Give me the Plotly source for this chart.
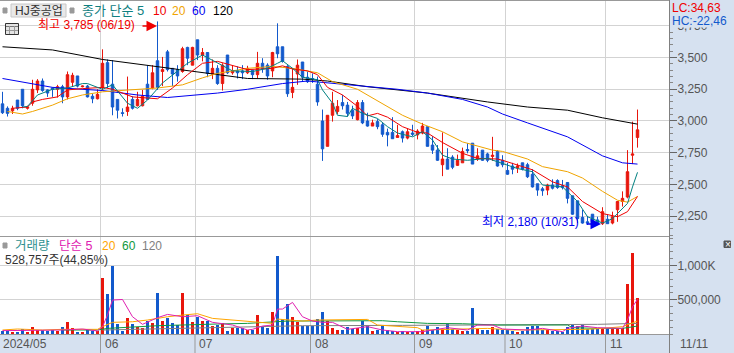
import plotly.graph_objects as go

W, H = 734, 353
OPEN = [3135,3100,3080,3165,3250,3100,3140,3245,3315,3245,3260,3250,3270,3190,3305,3355,3270,3275,3195,3175,
        3265,3460,3290,3170,3065,3075,3170,3120,3120,3290,3260,3475,3390,3545,3415,3405,3390,3580,3440,3640,
        3520,3540,3370,3415,3295,3520,3380,3395,3395,3380,3400,3365,3455,3440,3395,3585,3585,3430,3225,3370,
        3465,3345,3335,3290,3000,2800,3045,3075,3145,3125,3085,3010,3145,3000,2960,2995,2970,2910,2910,2870,
        2915,2865,2905,2890,2905,2955,2810,2770,2655,2700,2715,2650,2670,2775,2825,2700,2770,2740,2720,2760,
        2690,2610,2645,2630,2670,2655,2580,2505,2465,2455,2495,2530,2490,2515,2410,2370,2240,2205,2265,2220,
        2190,2225,2195,2300,2365,2400,2730,2870]
HIGH = [3230,3115,3120,3165,3250,3120,3325,3330,3335,3250,3265,3285,3285,3390,3380,3355,3280,3285,3215,3250,
        3565,3485,3480,3170,3100,3350,3195,3230,3245,3440,3440,3785,3505,3560,3415,3440,3585,3585,3585,3640,
        3575,3540,3485,3440,3455,3520,3440,3430,3440,3435,3400,3545,3495,3455,3545,3770,3585,3440,3415,3485,
        3465,3390,3375,3350,3090,3045,3230,3165,3205,3150,3120,3165,3165,3065,3010,3015,2985,2940,3030,2970,
        2925,2940,2970,2935,2985,2955,2880,2810,2910,2785,2730,2735,2790,2825,2825,2785,2770,2750,2875,2770,
        2730,2670,2670,2665,2670,2670,2620,2505,2480,2505,2540,2540,2535,2515,2410,2370,2300,2250,2265,2245,
        2320,2265,2285,2365,2445,2770,2995,3090]
LOW = [3055,3035,3055,3085,3100,3090,3120,3220,3230,3190,3190,3185,3140,3170,3270,3265,3265,3185,3140,3170,
       3240,3260,3045,3020,3035,3040,3090,3115,3115,3165,3250,3245,3275,3390,3275,3310,3380,3440,3440,3480,
       3470,3345,3330,3285,3240,3370,3365,3335,3330,3370,3330,3335,3380,3325,3345,3495,3460,3190,3180,3285,
       3310,3300,3300,3120,2685,2800,2995,3055,3090,3035,3015,3005,2975,2955,2960,2935,2875,2800,2860,2870,
       2830,2855,2880,2855,2895,2800,2740,2685,2565,2620,2620,2645,2670,2745,2660,2685,2685,2675,2685,2640,
       2635,2575,2580,2590,2610,2550,2475,2410,2410,2415,2460,2465,2460,2350,2260,2195,2190,2180,2195,2190,
       2180,2190,2185,2205,2325,2390,2660,2790]
CLOSE = [3065,3060,3100,3100,3120,3110,3250,3315,3240,3220,3250,3270,3190,3365,3360,3275,3275,3190,3175,3210,
         3455,3295,3110,3085,3060,3110,3100,3170,3195,3170,3380,3265,3405,3405,3370,3355,3570,3495,3580,3520,
         3540,3375,3415,3295,3440,3380,3395,3380,3380,3415,3365,3455,3415,3355,3540,3530,3470,3215,3265,3440,
         3345,3310,3330,3150,2780,3045,3140,3115,3120,3060,3040,3145,2985,2960,2985,2955,2895,2890,2860,2885,
         2865,2915,2895,2920,2960,2800,2770,2690,2700,2620,2635,2690,2760,2765,2660,2725,2690,2690,2730,2645,
         2655,2580,2620,2645,2620,2560,2480,2455,2450,2495,2470,2475,2475,2390,2265,2230,2195,2195,2205,2195,
         2285,2190,2245,2365,2390,2600,2740,2930]
VOLUME_K = [49,49,34,34,68,34,97,58,58,49,58,49,97,175,82,29,29,58,44,44,
            815,582,990,146,44,228,146,107,82,189,155,597,189,238,160,131,597,276,175,247,
            189,189,116,131,155,44,92,92,82,53,58,276,97,92,320,1135,218,432,247,179,
            121,121,121,218,320,189,87,58,58,107,68,82,189,121,44,58,121,58,44,29,
            49,34,34,44,58,121,58,102,78,141,73,58,44,44,378,78,58,58,97,78,
            58,58,44,24,49,97,121,121,58,58,44,49,34,97,136,112,136,78,78,68,
            82,82,78,78,82,728,1179,529]

MA5_IDX = [4,5,7,10,13,16,17,20,22,25,27,29,32,35,37,40,43,46,50,53,55,56,58,60,63,64,66,67,69,70,72,73,75,77,79,82,84,86,88,90,93,97,100,103,106,108,112,115,117,120,122,125,126,127]
MA5_VAL = [3110,3115,3205,3250,3260,3295,3295,3250,3285,3140,3100,3165,3300,3395,3455,3520,3455,3395,3390,3415,3455,3475,3415,3345,3325,3245,3140,3045,3035,3100,3060,3045,3020,2955,2905,2875,2915,2850,2730,2700,2690,2705,2665,2625,2600,2495,2480,2365,2245,2195,2230,2350,2480,2595]
MA10_IDX = [2,5,6,8,11,13,16,20,22,26,31,34,37,40,43,46,49,54,56,58,61,63,65,68,71,73,75,77,80,83,85,88,92,95,99,100,103,106,110,113,116,120,123,125,127]
MA10_VAL = [3100,3110,3150,3170,3190,3245,3255,3265,3250,3190,3175,3260,3365,3455,3470,3440,3405,3415,3435,3410,3395,3365,3265,3205,3115,3040,3060,3030,2955,2910,2905,2830,2745,2705,2700,2690,2655,2615,2520,2480,2365,2270,2245,2285,2405]
MA20_IDX = [1,4,6,10,13,16,20,25,31,36,40,43,49,54,58,63,66,71,76,80,84,88,92,98,100,105,108,113,116,120,123,125,127]
MA20_VAL = [3075,3055,3075,3125,3175,3205,3230,3245,3260,3285,3340,3375,3415,3430,3415,3380,3310,3250,3135,3045,2975,2915,2835,2770,2760,2700,2640,2600,2550,2445,2375,2360,2405]
MA60_IDX = [0,6,10,20,27,33,43,49,56,61,73,79,85,92,97,100,105,113,120,124,127]
MA60_VAL = [3335,3295,3265,3240,3205,3185,3220,3250,3295,3315,3275,3250,3220,3170,3110,3055,2985,2875,2725,2670,2660]
MA120_IDX = [0,10,20,30,40,49,60,65,73,85,97,105,113,120,127]
MA120_VAL = [3585,3560,3485,3435,3380,3335,3330,3315,3270,3220,3150,3110,3085,3025,2975]

VMA5_IDX = [0,4,8,12,16,19,20,21,22,24,26,28,31,33,36,39,42,46,49,50,52,54,55,56,58,60,62,64,66,69,73,76,79,84,89,93,95,98,100,105,108,112,113,116,119,124,125,126,127]
VMA5_K = [49,49,58,58,73,44,107,276,495,504,252,141,238,286,252,267,170,131,58,68,116,131,364,364,461,252,189,170,170,68,107,58,34,34,92,58,131,131,73,58,82,34,82,116,92,82,204,398,504]
VMA20_IDX = [0,3,8,12,19,20,22,26,29,33,36,39,42,46,49,54,55,60,63,73,75,78,83,84,90,97,102,113,117,120,124,127]
VMA20_K = [58,73,58,68,68,107,170,179,204,252,276,296,228,204,179,155,218,189,204,213,131,116,92,58,73,82,58,68,68,82,107,189]
VMA60_IDX = [12,19,21,31,43,49,57,63,76,79,85,92,99,113,114,119,124,127]
VMA60_K = [58,58,82,121,146,155,189,189,194,179,155,150,131,131,92,82,82,116]
VMA120_IDX = [20,30,40,49,60,80,100,119,127]
VMA120_K = [58,73,82,97,121,126,131,141,155]

MONTH_POS = [19.6, 38.5, 61.6, 82.4, 100.5, 120.6]
MONTH_LABELS = ["06", "07", "08", "09", "10", "11"]
PRICE_TICKS = [2250, 2500, 2750, 3000, 3250, 3500, 3750]
VOL_TICKS = [500000, 1000000]
VOL_LABELS = ["500,000", "1,000K"]

RED, BLUE = "#E8160C", "#1259CC"
FONT = "Liberation Sans, Noto Sans CJK KR"
GRID = "#D3D3D3"
BAND = "#D6E1F0"

idx = list(range(len(OPEN)))
fig = go.Figure()


def line(xs, ys, color, yaxis="y", xaxis="x"):
    fig.add_trace(go.Scatter(x=xs, y=ys, mode="lines", line=dict(color=color, width=1),
                             xaxis=xaxis, yaxis=yaxis, hoverinfo="skip"))


line(MA120_IDX, MA120_VAL, "#000000")
line(MA60_IDX, MA60_VAL, "#0000F0")
line(MA20_IDX, MA20_VAL, "#F0A400")
line(MA10_IDX, MA10_VAL, "#F00000")
line(MA5_IDX, MA5_VAL, "#008080")

fig.add_trace(go.Candlestick(
    x=idx, open=OPEN, high=HIGH, low=LOW, close=CLOSE, xaxis="x", yaxis="y",
    increasing=dict(line=dict(color=RED, width=1), fillcolor=RED),
    decreasing=dict(line=dict(color=BLUE, width=1), fillcolor=BLUE),
    whiskerwidth=0, hoverinfo="skip"))

fig.add_trace(go.Bar(
    x=idx, y=[v * 1000 for v in VOLUME_K], xaxis="x2", yaxis="y2", width=0.62,
    marker=dict(color=[RED if c >= o else BLUE for o, c in zip(OPEN, CLOSE)], line=dict(width=0)),
    hoverinfo="skip"))


def k(vals):
    return [v * 1000 for v in vals]


line(VMA120_IDX, k(VMA120_K), "#808080", "y2", "x2")
line(VMA60_IDX, k(VMA60_K), "#109840", "y2", "x2")
line(VMA20_IDX, k(VMA20_K), "#FFA500", "y2", "x2")
line(VMA5_IDX, k(VMA5_K), "#E020B0", "y2", "x2")


def px(x):
    return x / W


def py(y):
    return 1 - y / H


annots = []


def label(x, y, text, color, size=12, anchor="left"):
    annots.append(dict(xref="paper", yref="paper", x=px(x), y=py(y), text=text, showarrow=False,
                       xanchor=anchor, yanchor="middle", align="left", borderpad=0,
                       font=dict(family=FONT, size=size, color=color)))


label(14, 10.5, "HJ중공업", "#333333", 12)
label(81, 10.5, "종가 단순 5", "#0F8080", 13)
label(152, 10.5, "10", "#F00000", 12)
label(171, 10.5, "20", "#F0A400", 12)
label(191, 10.5, "60", "#0000F0", 12)
label(212, 10.5, "120", "#000000", 12)
label(37, 25, "최고 3,785 (06/19)", "#F00000", 12)
label(481, 222, "최저 2,180 (10/31)", "#0000F0", 12)
label(14, 246, "거래량", "#2E9090", 12.5)
label(58, 246, "단순 5", "#E020B0", 12.5)
label(101, 246, "20", "#FFA500", 12)
label(121, 246, "60", "#109840", 12)
label(141, 246, "120", "#808080", 12)
label(4, 259.5, "528,757주(44,85%)", "#333333", 12)
label(2, 344, "2024/05", "#555555", 12)
label(678.5, 344, "11/11", "#555555", 12)
for pos, text in zip(MONTH_POS, MONTH_LABELS):
    annots.append(dict(xref="x2", yref="paper", x=pos, y=py(344), xshift=2, text=text, showarrow=False,
                       xanchor="left", yanchor="middle", font=dict(family=FONT, size=12, color="#555555")))
label(670.5, 8, "LC:34,63", "#F00000", 12)
label(670.5, 21, "HC:-22,46", "#1259CC", 12)
label(727.5, 244, "×", "#FFFFFF", 10, anchor="center")

annots.append(dict(xref="paper", yref="paper", x=px(157), y=py(26), text="", showarrow=True,
                   arrowcolor="#F00000", arrowhead=2, arrowwidth=1.5, arrowsize=1.4, ax=-16, ay=0))
annots.append(dict(xref="paper", yref="paper", x=px(601), y=py(224), text="", showarrow=True,
                   arrowcolor="#0000F0", arrowhead=2, arrowwidth=1.5, arrowsize=1.4, ax=-16, ay=0))

shapes = []


def rect(x0, y0, x1, y1, fill, border=None):
    shapes.append(dict(type="rect", xref="paper", yref="paper", x0=px(x0), x1=px(x1), y0=py(y0), y1=py(y1),
                       fillcolor=fill, line=dict(color=border or fill, width=1), layer="above"))


def seg(x0, y0, x1, y1, color, width=1):
    shapes.append(dict(type="line", xref="paper", yref="paper", x0=px(x0), x1=px(x1), y0=py(y0), y1=py(y1),
                       line=dict(color=color, width=width), layer="above"))


# frames between panels
for y in (0.5, 236.5, 334.5):
    seg(0, y, 669, y, "#999999")
for pos in MONTH_POS:
    shapes.append(dict(type="line", xref="x2", yref="paper", x0=pos, x1=pos, y0=py(335), y1=py(353),
                       line=dict(color="#999999", width=1), layer="above"))
rect(670, 0, 734, 27, BAND)
seg(669.5, 0, 669.5, 353, "#808080")
rect(11, 4, 66, 17, "#E8E8E8", "#C8C8C8")
rect(3, 8, 7, 13, "#999999")
rect(70, 8, 74, 13, "#999999")
rect(3, 243, 7, 248, "#999999")
rect(724, 241, 730.5, 247.5, "#555555")
rect(5.5, 23.5, 18.5, 34.5, "#E4E4E4", "#333333")
seg(6, 26.5, 18, 26.5, "#777777")
seg(6, 30.5, 18, 30.5, "#999999")
seg(9.5, 26, 9.5, 34, "#999999")
seg(14.5, 26, 14.5, 34, "#999999")

fig.update_layout(
    width=W, height=H, margin=dict(l=0, r=0, t=0, b=0), showlegend=False,
    paper_bgcolor=BAND, plot_bgcolor="#FFFFFF", bargap=0, dragmode=False,
    font=dict(family=FONT, size=12, color="#555555"),
    annotations=annots, shapes=shapes,
    xaxis=dict(domain=[0, 669 / W], range=[-0.5, 133.3], anchor="y", tickmode="array", tickvals=MONTH_POS,
               showticklabels=False, ticks="", showgrid=True, gridcolor=GRID, gridwidth=1, zeroline=False,
               rangeslider=dict(visible=False)),
    xaxis2=dict(domain=[0, 669 / W], range=[-0.5, 133.3], anchor="y2", tickmode="array", tickvals=MONTH_POS,
                showticklabels=False, ticks="", showgrid=True, gridcolor=GRID, gridwidth=1, zeroline=False),
    yaxis=dict(domain=[py(236), py(1)], range=[2093, 3946], side="right", anchor="x", tickmode="array",
               tickvals=PRICE_TICKS, ticktext=[f"{v:,}" for v in PRICE_TICKS], ticks="outside", ticklen=7,
               ticklabelstandoff=-2, tickcolor="#666666", showgrid=True, gridcolor=GRID, zeroline=False,
               tickfont=dict(family="Liberation Sans", size=12, color="#555555"),
               minor=dict(tickmode="linear", tick0=2250, dtick=50, ticks="outside", ticklen=3, tickcolor="#888888",
                          showgrid=False)),
    yaxis2=dict(domain=[py(334), py(237)], range=[0, 1416000], side="right", anchor="x2", tickmode="array",
                tickvals=VOL_TICKS, ticktext=VOL_LABELS, ticks="outside", ticklen=7, ticklabelstandoff=-2,
                tickcolor="#666666", showgrid=True, gridcolor=GRID, zeroline=False,
                tickfont=dict(family="Liberation Sans", size=12, color="#555555"),
                minor=dict(tickmode="linear", tick0=0, dtick=100000, ticks="outside", ticklen=3, tickcolor="#888888",
                           showgrid=False)),
)

fig.write_html("out.html", config=dict(displayModeBar=False),
               post_script="document.body.style.margin='0';document.body.style.overflow='hidden';")
